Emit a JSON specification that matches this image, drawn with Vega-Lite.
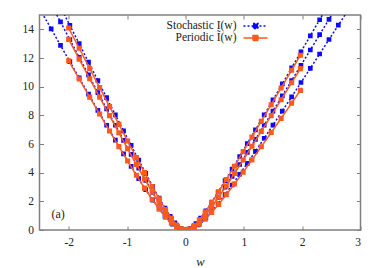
{
  "$schema": "https://vega.github.io/schema/vega-lite/v6.json",
  "width": 321,
  "height": 215,
  "autosize": {"type": "none"},
  "padding": {"left": 39.5, "top": 15, "right": 21.5, "bottom": 38},
  "background": "white",
  "config": {
    "font": "Liberation Serif",
    "view": {"stroke": "#808080", "strokeWidth": 1.5},
    "axis": {
      "grid": false,
      "domain": false,
      "tickColor": "#808080",
      "tickWidth": 1,
      "tickSize": -4,
      "labelFont": "Liberation Serif",
      "labelFontSize": 11.5,
      "labelColor": "#222222",
      "titleFont": "Liberation Serif",
      "titleFontSize": 12.5,
      "titleFontWeight": "normal",
      "titleColor": "#222222"
    }
  },
  "datasets": {
    "curves": [
      {"s": "Stochastic I(w)", "c": "U", "w": -2.14, "I": 15.57},
      {"s": "Stochastic I(w)", "c": "U", "w": -1.98, "I": 14.28},
      {"s": "Stochastic I(w)", "c": "U", "w": -1.82, "I": 13.0},
      {"s": "Stochastic I(w)", "c": "U", "w": -1.66, "I": 11.71},
      {"s": "Stochastic I(w)", "c": "U", "w": -1.5, "I": 10.43},
      {"s": "Stochastic I(w)", "c": "U", "w": -1.35, "I": 9.23},
      {"s": "Stochastic I(w)", "c": "U", "w": -1.2, "I": 8.03},
      {"s": "Stochastic I(w)", "c": "U", "w": -1.06, "I": 6.92},
      {"s": "Stochastic I(w)", "c": "U", "w": -0.93, "I": 5.9},
      {"s": "Stochastic I(w)", "c": "U", "w": -0.8, "I": 4.88},
      {"s": "Stochastic I(w)", "c": "U", "w": -0.68, "I": 3.95},
      {"s": "Stochastic I(w)", "c": "U", "w": -0.56, "I": 3.04},
      {"s": "Stochastic I(w)", "c": "U", "w": -0.45, "I": 2.23},
      {"s": "Stochastic I(w)", "c": "U", "w": -0.35, "I": 1.53},
      {"s": "Stochastic I(w)", "c": "U", "w": -0.26, "I": 0.95},
      {"s": "Stochastic I(w)", "c": "U", "w": -0.18, "I": 0.5},
      {"s": "Stochastic I(w)", "c": "U", "w": -0.09, "I": 0.12},
      {"s": "Stochastic I(w)", "c": "U", "w": 0, "I": 0},
      {"s": "Stochastic I(w)", "c": "U", "w": 0.09, "I": 0.11},
      {"s": "Stochastic I(w)", "c": "U", "w": 0.18, "I": 0.44},
      {"s": "Stochastic I(w)", "c": "U", "w": 0.26, "I": 0.83},
      {"s": "Stochastic I(w)", "c": "U", "w": 0.35, "I": 1.33},
      {"s": "Stochastic I(w)", "c": "U", "w": 0.45, "I": 1.94},
      {"s": "Stochastic I(w)", "c": "U", "w": 0.56, "I": 2.65},
      {"s": "Stochastic I(w)", "c": "U", "w": 0.68, "I": 3.44},
      {"s": "Stochastic I(w)", "c": "U", "w": 0.8, "I": 4.25},
      {"s": "Stochastic I(w)", "c": "U", "w": 0.93, "I": 5.13},
      {"s": "Stochastic I(w)", "c": "U", "w": 1.06, "I": 6.03},
      {"s": "Stochastic I(w)", "c": "U", "w": 1.2, "I": 6.99},
      {"s": "Stochastic I(w)", "c": "U", "w": 1.35, "I": 8.03},
      {"s": "Stochastic I(w)", "c": "U", "w": 1.5, "I": 9.08},
      {"s": "Stochastic I(w)", "c": "U", "w": 1.66, "I": 10.19},
      {"s": "Stochastic I(w)", "c": "U", "w": 1.82, "I": 11.31},
      {"s": "Stochastic I(w)", "c": "U", "w": 1.98, "I": 12.43},
      {"s": "Stochastic I(w)", "c": "U", "w": 2.14, "I": 13.55},
      {"s": "Stochastic I(w)", "c": "U", "w": 2.3, "I": 14.67},
      {"s": "Stochastic I(w)", "c": "U", "w": 2.46, "I": 15.8},

      {"s": "Stochastic I(w)", "c": "M", "w": -2.3, "I": 15.75},
      {"s": "Stochastic I(w)", "c": "M", "w": -2.14, "I": 14.52},
      {"s": "Stochastic I(w)", "c": "M", "w": -1.98, "I": 13.28},
      {"s": "Stochastic I(w)", "c": "M", "w": -1.82, "I": 12.05},
      {"s": "Stochastic I(w)", "c": "M", "w": -1.66, "I": 10.82},
      {"s": "Stochastic I(w)", "c": "M", "w": -1.5, "I": 9.59},
      {"s": "Stochastic I(w)", "c": "M", "w": -1.35, "I": 8.45},
      {"s": "Stochastic I(w)", "c": "M", "w": -1.2, "I": 7.31},
      {"s": "Stochastic I(w)", "c": "M", "w": -1.06, "I": 6.25},
      {"s": "Stochastic I(w)", "c": "M", "w": -0.93, "I": 5.28},
      {"s": "Stochastic I(w)", "c": "M", "w": -0.8, "I": 4.32},
      {"s": "Stochastic I(w)", "c": "M", "w": -0.68, "I": 3.46},
      {"s": "Stochastic I(w)", "c": "M", "w": -0.56, "I": 2.62},
      {"s": "Stochastic I(w)", "c": "M", "w": -0.45, "I": 1.88},
      {"s": "Stochastic I(w)", "c": "M", "w": -0.35, "I": 1.26},
      {"s": "Stochastic I(w)", "c": "M", "w": -0.26, "I": 0.76},
      {"s": "Stochastic I(w)", "c": "M", "w": -0.14, "I": 0.25},
      {"s": "Stochastic I(w)", "c": "M", "w": 0, "I": 0},
      {"s": "Stochastic I(w)", "c": "M", "w": 0.14, "I": 0.22},
      {"s": "Stochastic I(w)", "c": "M", "w": 0.26, "I": 0.65},
      {"s": "Stochastic I(w)", "c": "M", "w": 0.35, "I": 1.09},
      {"s": "Stochastic I(w)", "c": "M", "w": 0.45, "I": 1.63},
      {"s": "Stochastic I(w)", "c": "M", "w": 0.56, "I": 2.26},
      {"s": "Stochastic I(w)", "c": "M", "w": 0.68, "I": 2.99},
      {"s": "Stochastic I(w)", "c": "M", "w": 0.8, "I": 3.74},
      {"s": "Stochastic I(w)", "c": "M", "w": 0.93, "I": 4.57},
      {"s": "Stochastic I(w)", "c": "M", "w": 1.06, "I": 5.41},
      {"s": "Stochastic I(w)", "c": "M", "w": 1.2, "I": 6.32},
      {"s": "Stochastic I(w)", "c": "M", "w": 1.35, "I": 7.31},
      {"s": "Stochastic I(w)", "c": "M", "w": 1.5, "I": 8.3},
      {"s": "Stochastic I(w)", "c": "M", "w": 1.66, "I": 9.36},
      {"s": "Stochastic I(w)", "c": "M", "w": 1.82, "I": 10.43},
      {"s": "Stochastic I(w)", "c": "M", "w": 1.98, "I": 11.49},
      {"s": "Stochastic I(w)", "c": "M", "w": 2.14, "I": 12.56},
      {"s": "Stochastic I(w)", "c": "M", "w": 2.3, "I": 13.63},
      {"s": "Stochastic I(w)", "c": "M", "w": 2.46, "I": 14.7},
      {"s": "Stochastic I(w)", "c": "M", "w": 2.62, "I": 15.78},

      {"s": "Stochastic I(w)", "c": "L", "w": -2.46, "I": 15.17},
      {"s": "Stochastic I(w)", "c": "L", "w": -2.3, "I": 14.03},
      {"s": "Stochastic I(w)", "c": "L", "w": -2.14, "I": 12.88},
      {"s": "Stochastic I(w)", "c": "L", "w": -1.98, "I": 11.75},
      {"s": "Stochastic I(w)", "c": "L", "w": -1.82, "I": 10.61},
      {"s": "Stochastic I(w)", "c": "L", "w": -1.66, "I": 9.48},
      {"s": "Stochastic I(w)", "c": "L", "w": -1.5, "I": 8.35},
      {"s": "Stochastic I(w)", "c": "L", "w": -1.35, "I": 7.31},
      {"s": "Stochastic I(w)", "c": "L", "w": -1.2, "I": 6.27},
      {"s": "Stochastic I(w)", "c": "L", "w": -1.06, "I": 5.31},
      {"s": "Stochastic I(w)", "c": "L", "w": -0.93, "I": 4.44},
      {"s": "Stochastic I(w)", "c": "L", "w": -0.8, "I": 3.58},
      {"s": "Stochastic I(w)", "c": "L", "w": -0.68, "I": 2.82},
      {"s": "Stochastic I(w)", "c": "L", "w": -0.56, "I": 2.09},
      {"s": "Stochastic I(w)", "c": "L", "w": -0.45, "I": 1.47},
      {"s": "Stochastic I(w)", "c": "L", "w": -0.35, "I": 0.95},
      {"s": "Stochastic I(w)", "c": "L", "w": -0.22, "I": 0.41},
      {"s": "Stochastic I(w)", "c": "L", "w": -0.1, "I": 0.1},
      {"s": "Stochastic I(w)", "c": "L", "w": 0, "I": 0},
      {"s": "Stochastic I(w)", "c": "L", "w": 0.1, "I": 0.08},
      {"s": "Stochastic I(w)", "c": "L", "w": 0.22, "I": 0.36},
      {"s": "Stochastic I(w)", "c": "L", "w": 0.35, "I": 0.84},
      {"s": "Stochastic I(w)", "c": "L", "w": 0.45, "I": 1.28},
      {"s": "Stochastic I(w)", "c": "L", "w": 0.56, "I": 1.83},
      {"s": "Stochastic I(w)", "c": "L", "w": 0.68, "I": 2.47},
      {"s": "Stochastic I(w)", "c": "L", "w": 0.8, "I": 3.14},
      {"s": "Stochastic I(w)", "c": "L", "w": 0.93, "I": 3.89},
      {"s": "Stochastic I(w)", "c": "L", "w": 1.06, "I": 4.65},
      {"s": "Stochastic I(w)", "c": "L", "w": 1.2, "I": 5.49},
      {"s": "Stochastic I(w)", "c": "L", "w": 1.35, "I": 6.4},
      {"s": "Stochastic I(w)", "c": "L", "w": 1.5, "I": 7.32},
      {"s": "Stochastic I(w)", "c": "L", "w": 1.66, "I": 8.3},
      {"s": "Stochastic I(w)", "c": "L", "w": 1.82, "I": 9.29},
      {"s": "Stochastic I(w)", "c": "L", "w": 1.98, "I": 10.29},
      {"s": "Stochastic I(w)", "c": "L", "w": 2.14, "I": 11.28},
      {"s": "Stochastic I(w)", "c": "L", "w": 2.3, "I": 12.28},
      {"s": "Stochastic I(w)", "c": "L", "w": 2.46, "I": 13.29},
      {"s": "Stochastic I(w)", "c": "L", "w": 2.62, "I": 14.29},
      {"s": "Stochastic I(w)", "c": "L", "w": 2.78, "I": 15.29},

      {"s": "Periodic Ĩ(w)", "c": "U", "w": -2.0, "I": 14.09},
      {"s": "Periodic Ĩ(w)", "c": "U", "w": -1.82, "I": 12.68},
      {"s": "Periodic Ĩ(w)", "c": "U", "w": -1.64, "I": 11.27},
      {"s": "Periodic Ĩ(w)", "c": "U", "w": -1.47, "I": 9.94},
      {"s": "Periodic Ĩ(w)", "c": "U", "w": -1.3, "I": 8.61},
      {"s": "Periodic Ĩ(w)", "c": "U", "w": -1.14, "I": 7.37},
      {"s": "Periodic Ĩ(w)", "c": "U", "w": -0.99, "I": 6.21},
      {"s": "Periodic Ĩ(w)", "c": "U", "w": -0.84, "I": 5.06},
      {"s": "Periodic Ĩ(w)", "c": "U", "w": -0.7, "I": 4.0},
      {"s": "Periodic Ĩ(w)", "c": "U", "w": -0.57, "I": 3.04},
      {"s": "Periodic Ĩ(w)", "c": "U", "w": -0.45, "I": 2.18},
      {"s": "Periodic Ĩ(w)", "c": "U", "w": -0.34, "I": 1.43},
      {"s": "Periodic Ĩ(w)", "c": "U", "w": -0.24, "I": 0.81},
      {"s": "Periodic Ĩ(w)", "c": "U", "w": -0.15, "I": 0.35},
      {"s": "Periodic Ĩ(w)", "c": "U", "w": -0.07, "I": 0.08},
      {"s": "Periodic Ĩ(w)", "c": "U", "w": 0, "I": 0},
      {"s": "Periodic Ĩ(w)", "c": "U", "w": 0.07, "I": 0.07},
      {"s": "Periodic Ĩ(w)", "c": "U", "w": 0.15, "I": 0.31},
      {"s": "Periodic Ĩ(w)", "c": "U", "w": 0.24, "I": 0.71},
      {"s": "Periodic Ĩ(w)", "c": "U", "w": 0.34, "I": 1.25},
      {"s": "Periodic Ĩ(w)", "c": "U", "w": 0.45, "I": 1.91},
      {"s": "Periodic Ĩ(w)", "c": "U", "w": 0.57, "I": 2.67},
      {"s": "Periodic Ĩ(w)", "c": "U", "w": 0.7, "I": 3.52},
      {"s": "Periodic Ĩ(w)", "c": "U", "w": 0.84, "I": 4.45},
      {"s": "Periodic Ĩ(w)", "c": "U", "w": 0.99, "I": 5.47},
      {"s": "Periodic Ĩ(w)", "c": "U", "w": 1.14, "I": 6.48},
      {"s": "Periodic Ĩ(w)", "c": "U", "w": 1.3, "I": 7.58},
      {"s": "Periodic Ĩ(w)", "c": "U", "w": 1.47, "I": 8.74},
      {"s": "Periodic Ĩ(w)", "c": "U", "w": 1.64, "I": 9.91},
      {"s": "Periodic Ĩ(w)", "c": "U", "w": 1.82, "I": 11.15},
      {"s": "Periodic Ĩ(w)", "c": "U", "w": 1.97, "I": 12.19},

      {"s": "Periodic Ĩ(w)", "c": "M", "w": -2.0, "I": 13.3},
      {"s": "Periodic Ĩ(w)", "c": "M", "w": -1.82, "I": 11.92},
      {"s": "Periodic Ĩ(w)", "c": "M", "w": -1.64, "I": 10.55},
      {"s": "Periodic Ĩ(w)", "c": "M", "w": -1.47, "I": 9.27},
      {"s": "Periodic Ĩ(w)", "c": "M", "w": -1.3, "I": 7.98},
      {"s": "Periodic Ĩ(w)", "c": "M", "w": -1.14, "I": 6.78},
      {"s": "Periodic Ĩ(w)", "c": "M", "w": -0.99, "I": 5.67},
      {"s": "Periodic Ĩ(w)", "c": "M", "w": -0.84, "I": 4.57},
      {"s": "Periodic Ĩ(w)", "c": "M", "w": -0.7, "I": 3.56},
      {"s": "Periodic Ĩ(w)", "c": "M", "w": -0.57, "I": 2.66},
      {"s": "Periodic Ĩ(w)", "c": "M", "w": -0.45, "I": 1.86},
      {"s": "Periodic Ĩ(w)", "c": "M", "w": -0.34, "I": 1.18},
      {"s": "Periodic Ĩ(w)", "c": "M", "w": -0.24, "I": 0.65},
      {"s": "Periodic Ĩ(w)", "c": "M", "w": -0.15, "I": 0.27},
      {"s": "Periodic Ĩ(w)", "c": "M", "w": -0.07, "I": 0.06},
      {"s": "Periodic Ĩ(w)", "c": "M", "w": 0, "I": 0},
      {"s": "Periodic Ĩ(w)", "c": "M", "w": 0.07, "I": 0.05},
      {"s": "Periodic Ĩ(w)", "c": "M", "w": 0.15, "I": 0.24},
      {"s": "Periodic Ĩ(w)", "c": "M", "w": 0.24, "I": 0.56},
      {"s": "Periodic Ĩ(w)", "c": "M", "w": 0.34, "I": 1.02},
      {"s": "Periodic Ĩ(w)", "c": "M", "w": 0.45, "I": 1.6},
      {"s": "Periodic Ĩ(w)", "c": "M", "w": 0.57, "I": 2.29},
      {"s": "Periodic Ĩ(w)", "c": "M", "w": 0.7, "I": 3.07},
      {"s": "Periodic Ĩ(w)", "c": "M", "w": 0.84, "I": 3.94},
      {"s": "Periodic Ĩ(w)", "c": "M", "w": 0.99, "I": 4.88},
      {"s": "Periodic Ĩ(w)", "c": "M", "w": 1.14, "I": 5.84},
      {"s": "Periodic Ĩ(w)", "c": "M", "w": 1.3, "I": 6.88},
      {"s": "Periodic Ĩ(w)", "c": "M", "w": 1.47, "I": 7.98},
      {"s": "Periodic Ĩ(w)", "c": "M", "w": 1.64, "I": 9.09},
      {"s": "Periodic Ĩ(w)", "c": "M", "w": 1.82, "I": 10.27},
      {"s": "Periodic Ĩ(w)", "c": "M", "w": 1.97, "I": 11.26},

      {"s": "Periodic Ĩ(w)", "c": "L", "w": -2.0, "I": 11.81},
      {"s": "Periodic Ĩ(w)", "c": "L", "w": -1.82, "I": 10.54},
      {"s": "Periodic Ĩ(w)", "c": "L", "w": -1.64, "I": 9.27},
      {"s": "Periodic Ĩ(w)", "c": "L", "w": -1.47, "I": 8.09},
      {"s": "Periodic Ĩ(w)", "c": "L", "w": -1.3, "I": 6.91},
      {"s": "Periodic Ĩ(w)", "c": "L", "w": -1.14, "I": 5.82},
      {"s": "Periodic Ĩ(w)", "c": "L", "w": -0.99, "I": 4.81},
      {"s": "Periodic Ĩ(w)", "c": "L", "w": -0.84, "I": 3.82},
      {"s": "Periodic Ĩ(w)", "c": "L", "w": -0.7, "I": 2.92},
      {"s": "Periodic Ĩ(w)", "c": "L", "w": -0.57, "I": 2.13},
      {"s": "Periodic Ĩ(w)", "c": "L", "w": -0.45, "I": 1.46},
      {"s": "Periodic Ĩ(w)", "c": "L", "w": -0.34, "I": 0.9},
      {"s": "Periodic Ĩ(w)", "c": "L", "w": -0.24, "I": 0.48},
      {"s": "Periodic Ĩ(w)", "c": "L", "w": -0.15, "I": 0.2},
      {"s": "Periodic Ĩ(w)", "c": "L", "w": -0.07, "I": 0.04},
      {"s": "Periodic Ĩ(w)", "c": "L", "w": 0, "I": 0},
      {"s": "Periodic Ĩ(w)", "c": "L", "w": 0.07, "I": 0.04},
      {"s": "Periodic Ĩ(w)", "c": "L", "w": 0.15, "I": 0.16},
      {"s": "Periodic Ĩ(w)", "c": "L", "w": 0.24, "I": 0.4},
      {"s": "Periodic Ĩ(w)", "c": "L", "w": 0.34, "I": 0.76},
      {"s": "Periodic Ĩ(w)", "c": "L", "w": 0.45, "I": 1.22},
      {"s": "Periodic Ĩ(w)", "c": "L", "w": 0.57, "I": 1.79},
      {"s": "Periodic Ĩ(w)", "c": "L", "w": 0.7, "I": 2.46},
      {"s": "Periodic Ĩ(w)", "c": "L", "w": 0.84, "I": 3.21},
      {"s": "Periodic Ĩ(w)", "c": "L", "w": 0.99, "I": 4.04},
      {"s": "Periodic Ĩ(w)", "c": "L", "w": 1.14, "I": 4.89},
      {"s": "Periodic Ĩ(w)", "c": "L", "w": 1.3, "I": 5.81},
      {"s": "Periodic Ĩ(w)", "c": "L", "w": 1.47, "I": 6.8},
      {"s": "Periodic Ĩ(w)", "c": "L", "w": 1.64, "I": 7.79},
      {"s": "Periodic Ĩ(w)", "c": "L", "w": 1.82, "I": 8.85},
      {"s": "Periodic Ĩ(w)", "c": "L", "w": 1.97, "I": 9.74}
    ]
  },
  "data": {"name": "curves"},
  "resolve": {"axis": {"x": "independent", "y": "independent"}},
  "layer": [
    {
      "transform": [{"filter": "datum.s == 'Stochastic I(w)'"}],
      "mark": {"type": "line", "clip": true, "strokeWidth": 1.5, "point": {"shape": "square", "filled": true, "size": 22, "clip": true}},
      "encoding": {
        "x": {"field": "w", "type": "quantitative", "scale": {"domain": [-2.5, 3], "nice": false, "zero": false},
              "axis": {"orient": "bottom", "title": "w", "titleFontStyle": "italic", "titlePadding": 8, "labelPadding": 10, "values": [-2, -1, 0, 1, 2, 3], "labelExpr": "'' + datum.value"}},
        "y": {"field": "I", "type": "quantitative", "scale": {"domain": [0, 15], "nice": false},
              "axis": {"orient": "left", "title": null, "labelPadding": 10, "values": [0, 2, 4, 6, 8, 10, 12, 14], "labelExpr": "'' + datum.value"}},
        "color": {"field": "s", "type": "nominal",
                  "scale": {"domain": ["Stochastic I(w)", "Periodic Ĩ(w)"], "range": ["#0a0aff", "#ff5a1e"]},
                  "legend": {"title": null, "orient": "none", "legendX": 210, "legendY": 5, "padding": 0, "rowPadding": -2,
                             "symbolType": "M-2.4,0H2.4M-0.5,-0.5H0.5V0.5H-0.5Z", "symbolSize": 100, "symbolStrokeWidth": 1.5,
                             "labelAlign": "right", "labelOffset": -25, "labelFont": "Liberation Serif", "labelFontSize": 11.5, "labelColor": "#222222", "labelLimit": 200}},
        "strokeDash": {"field": "s", "type": "nominal",
                  "scale": {"domain": ["Stochastic I(w)", "Periodic Ĩ(w)"], "range": [[2, 2], [1, 0]]},
                  "legend": {"title": null, "orient": "none", "legendX": 210, "legendY": 5, "padding": 0, "rowPadding": -2,
                             "symbolType": "M-2.4,0H2.4M-0.5,-0.5H0.5V0.5H-0.5Z", "symbolSize": 100, "symbolStrokeWidth": 1.5,
                             "labelAlign": "right", "labelOffset": -25, "labelFont": "Liberation Serif", "labelFontSize": 11.5, "labelColor": "#222222", "labelLimit": 200}},
        "detail": {"field": "c"}
      }
    },
    {
      "transform": [{"filter": "datum.s == 'Periodic Ĩ(w)'"}],
      "mark": {"type": "line", "clip": true, "strokeWidth": 1.5, "point": {"shape": "square", "filled": true, "size": 26, "clip": true}},
      "encoding": {
        "x": {"field": "w", "type": "quantitative",
              "axis": {"orient": "top", "labels": false, "title": null, "values": [-2, -1, 0, 1, 2, 3]}},
        "y": {"field": "I", "type": "quantitative",
              "axis": {"orient": "right", "labels": false, "title": null, "values": [0, 2, 4, 6, 8, 10, 12, 14]}},
        "color": {"field": "s", "type": "nominal"},
        "strokeDash": {"field": "s", "type": "nominal"},
        "detail": {"field": "c"}
      }
    },
    {
      "data": {"values": [{"label": "(a)"}]},
      "mark": {"type": "text", "font": "Liberation Serif", "fontSize": 12, "color": "#222222"},
      "encoding": {
        "x": {"datum": -2.18, "type": "quantitative", "axis": null},
        "y": {"datum": 1.15, "type": "quantitative", "axis": null},
        "text": {"field": "label"}
      }
    }
  ]
}
